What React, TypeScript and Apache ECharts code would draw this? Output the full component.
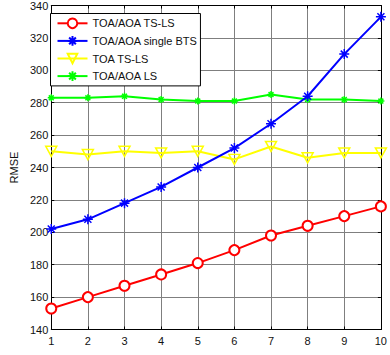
import React, { useEffect, useRef } from "react";
import * as echarts from "echarts";

const xValues = [1, 2, 3, 4, 5, 6, 7, 8, 9, 10];
const tsLs = [153, 160, 167, 174, 181, 189, 198, 204, 210, 216];
const singleBts = [202, 208, 218, 228, 240, 252, 267, 284, 310, 333];
const toaTsLs = [250, 248, 250, 249, 250, 245, 253, 246, 249, 249];
const toaAoaLs = [283, 283, 284, 282, 281, 281, 285, 282, 282, 281];
const seriesNames = ["TOA/AOA TS-LS", "TOA/AOA single BTS", "TOA TS-LS", "TOA/AOA LS"];

const asterisk = "path://M0,5L10,5M5,0L5,10M1.5,1.5L8.5,8.5M1.5,8.5L8.5,1.5";
const downTri = "path://M0,0L10,0L5,9Z";

const FONT = "Liberation Sans, Arial, sans-serif";

export default function App() {
  const ref = useRef<HTMLDivElement>(null);
  useEffect(() => {
    document.body.style.margin = "0";
    const chart = echarts.init(ref.current!, null, { renderer: "svg" });
    const pairs = (ys: number[]) => xValues.map((x, i) => [x, ys[i]]);
    const axisCommon = {
      min: 1,
      max: 10,
      interval: 1,
    };
    chart.setOption({
      animation: false,
      backgroundColor: "#fff",
      textStyle: { fontFamily: FONT },
      grid: { left: 45.5, right: 4.5, top: 5, bottom: 25.5, containLabel: false },
      legend: {
        orient: "vertical",
        left: 50.5,
        top: 13.5,
        itemWidth: 30,
        itemHeight: 12,
        itemGap: 6,
        padding: [4, 3, 4, 6],
        borderColor: "#000",
        borderWidth: 1,
        backgroundColor: "#fff",
        textStyle: { fontFamily: FONT, fontSize: 11, color: "#111" },
        data: seriesNames,
      },
      xAxis: [
        {
          type: "value",
          ...axisCommon,
          position: "bottom",
          axisLine: { lineStyle: { color: "#000", width: 1 } },
          axisTick: { inside: true, length: 3, lineStyle: { color: "#000" } },
          axisLabel: { fontFamily: FONT, fontSize: 11, color: "#111", margin: 6 },
          splitLine: { show: true, lineStyle: { color: "#7f7f7f", width: 1 } },
        },
        {
          type: "value",
          ...axisCommon,
          position: "top",
          axisLine: { lineStyle: { color: "#000", width: 1 } },
          axisTick: { inside: true, length: 3, lineStyle: { color: "#000" } },
          axisLabel: { show: false },
          splitLine: { show: false },
        },
      ],
      yAxis: [
        {
          type: "value",
          min: 140,
          max: 340,
          interval: 20,
          position: "left",
          name: "RMSE",
          nameLocation: "middle",
          nameGap: 26,
          nameTextStyle: { fontFamily: FONT, fontSize: 11, color: "#111" },
          axisLine: { show: true, lineStyle: { color: "#000", width: 1 } },
          axisTick: { show: true, inside: true, length: 3, lineStyle: { color: "#000" } },
          axisLabel: { fontFamily: FONT, fontSize: 11, color: "#111", margin: 3 },
          splitLine: { show: true, lineStyle: { color: "#7f7f7f", width: 1 } },
        },
        {
          type: "value",
          min: 140,
          max: 340,
          interval: 20,
          position: "right",
          axisLine: { show: true, lineStyle: { color: "#000", width: 1 } },
          axisTick: { show: true, inside: true, length: 3, lineStyle: { color: "#000" } },
          axisLabel: { show: false },
          splitLine: { show: false },
        },
      ],
      series: [
        {
          name: seriesNames[0],
          type: "line",
          data: pairs(tsLs),
          symbol: "emptyCircle",
          symbolSize: 10,
          lineStyle: { color: "#ff0000", width: 2 },
          itemStyle: { color: "#ff0000", borderColor: "#ff0000", borderWidth: 1.5 },
          z: 5,
        },
        {
          name: seriesNames[1],
          type: "line",
          data: pairs(singleBts),
          symbol: asterisk,
          symbolSize: 10,
          lineStyle: { color: "#0000ff", width: 2 },
          itemStyle: { color: "#0000ff", borderColor: "#0000ff", borderWidth: 1.5 },
          z: 4,
        },
        {
          name: seriesNames[2],
          type: "line",
          data: pairs(toaTsLs),
          symbol: downTri,
          symbolSize: [11, 10],
          lineStyle: { color: "#ffff00", width: 2 },
          itemStyle: { color: "rgba(255,255,255,0)", borderColor: "#ffff00", borderWidth: 1.5 },
          z: 3,
        },
        {
          name: seriesNames[3],
          type: "line",
          data: pairs(toaAoaLs),
          symbol: asterisk,
          symbolSize: 7,
          lineStyle: { color: "#00ff00", width: 2 },
          itemStyle: { color: "#00ff00", borderColor: "#00ff00", borderWidth: 1.5 },
          z: 2,
        },
      ],
    });
    return () => chart.dispose();
  }, []);
  return <div ref={ref} style={{ width: 390, height: 355 }} />;
}
